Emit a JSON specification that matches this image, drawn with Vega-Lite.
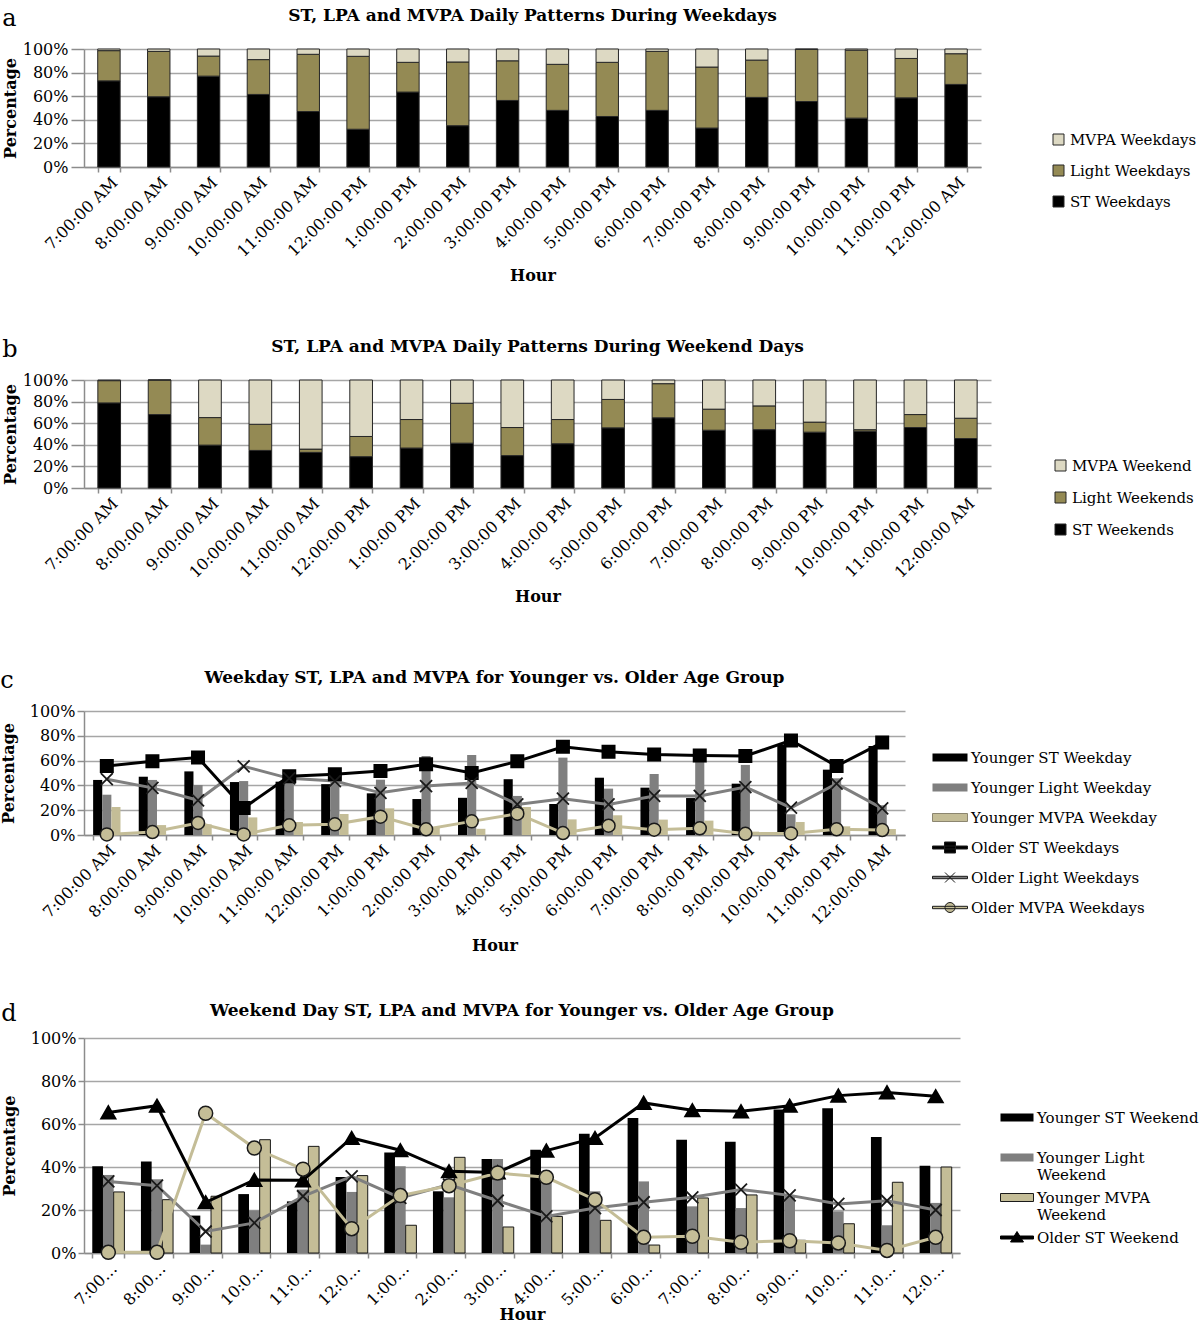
{
"$schema": "https://vega.github.io/schema/vega-lite/v6.json",
"background": "white",
"padding": {"left": 0, "top": 7, "right": 0, "bottom": 0},
"spacing": 64,
"resolve": {"scale": {"color": "independent", "xOffset": "independent", "x": "independent", "y": "independent"}, "legend": {"color": "independent"}},
"config": {
  "font": "DejaVu Serif",
  "view": {"stroke": null},
  "axis": {"labelFont": "DejaVu Serif", "labelFontSize": 16, "labelColor": "#000", "titleFont": "DejaVu Serif", "titleFontSize": 16, "titleColor": "#000", "titleFontWeight": "bold", "domainColor": "#8c8c8c", "tickColor": "#8c8c8c", "gridColor": "#a6a6a6", "domainWidth": 1.5, "gridWidth": 1.5, "tickWidth": 1.5},
  "legend": {"labelFont": "DejaVu Serif", "labelFontSize": 15, "labelColor": "#000", "padding": 0, "title": null, "labelLimit": 400},
  "title": {"font": "DejaVu Serif", "fontSize": 17, "fontWeight": "bold", "color": "#000"}
},
"datasets": {
"a": [
{"hour":"7:00:00 AM","series":"ST Weekdays","value":73},{"hour":"7:00:00 AM","series":"Light Weekdays","value":25.6},{"hour":"7:00:00 AM","series":"MVPA Weekdays","value":1.4},
{"hour":"8:00:00 AM","series":"ST Weekdays","value":59.5},{"hour":"8:00:00 AM","series":"Light Weekdays","value":38.5},{"hour":"8:00:00 AM","series":"MVPA Weekdays","value":2},
{"hour":"9:00:00 AM","series":"ST Weekdays","value":77},{"hour":"9:00:00 AM","series":"Light Weekdays","value":17},{"hour":"9:00:00 AM","series":"MVPA Weekdays","value":6},
{"hour":"10:00:00 AM","series":"ST Weekdays","value":61.5},{"hour":"10:00:00 AM","series":"Light Weekdays","value":29.5},{"hour":"10:00:00 AM","series":"MVPA Weekdays","value":9},
{"hour":"11:00:00 AM","series":"ST Weekdays","value":47},{"hour":"11:00:00 AM","series":"Light Weekdays","value":48.5},{"hour":"11:00:00 AM","series":"MVPA Weekdays","value":4.5},
{"hour":"12:00:00 PM","series":"ST Weekdays","value":32},{"hour":"12:00:00 PM","series":"Light Weekdays","value":61.8},{"hour":"12:00:00 PM","series":"MVPA Weekdays","value":6.2},
{"hour":"1:00:00 PM","series":"ST Weekdays","value":63.5},{"hour":"1:00:00 PM","series":"Light Weekdays","value":25.2},{"hour":"1:00:00 PM","series":"MVPA Weekdays","value":11.3},
{"hour":"2:00:00 PM","series":"ST Weekdays","value":35},{"hour":"2:00:00 PM","series":"Light Weekdays","value":54},{"hour":"2:00:00 PM","series":"MVPA Weekdays","value":11},
{"hour":"3:00:00 PM","series":"ST Weekdays","value":56.4},{"hour":"3:00:00 PM","series":"Light Weekdays","value":33.6},{"hour":"3:00:00 PM","series":"MVPA Weekdays","value":10},
{"hour":"4:00:00 PM","series":"ST Weekdays","value":48},{"hour":"4:00:00 PM","series":"Light Weekdays","value":39},{"hour":"4:00:00 PM","series":"MVPA Weekdays","value":13},
{"hour":"5:00:00 PM","series":"ST Weekdays","value":42.8},{"hour":"5:00:00 PM","series":"Light Weekdays","value":45.9},{"hour":"5:00:00 PM","series":"MVPA Weekdays","value":11.3},
{"hour":"6:00:00 PM","series":"ST Weekdays","value":48},{"hour":"6:00:00 PM","series":"Light Weekdays","value":50},{"hour":"6:00:00 PM","series":"MVPA Weekdays","value":2},
{"hour":"7:00:00 PM","series":"ST Weekdays","value":33},{"hour":"7:00:00 PM","series":"Light Weekdays","value":51.7},{"hour":"7:00:00 PM","series":"MVPA Weekdays","value":15.3},
{"hour":"8:00:00 PM","series":"ST Weekdays","value":59},{"hour":"8:00:00 PM","series":"Light Weekdays","value":31.6},{"hour":"8:00:00 PM","series":"MVPA Weekdays","value":9.4},
{"hour":"9:00:00 PM","series":"ST Weekdays","value":55.5},{"hour":"9:00:00 PM","series":"Light Weekdays","value":44.2},{"hour":"9:00:00 PM","series":"MVPA Weekdays","value":0.3},
{"hour":"10:00:00 PM","series":"ST Weekdays","value":41.4},{"hour":"10:00:00 PM","series":"Light Weekdays","value":57.6},{"hour":"10:00:00 PM","series":"MVPA Weekdays","value":1},
{"hour":"11:00:00 PM","series":"ST Weekdays","value":58.6},{"hour":"11:00:00 PM","series":"Light Weekdays","value":33.4},{"hour":"11:00:00 PM","series":"MVPA Weekdays","value":8},
{"hour":"12:00:00 AM","series":"ST Weekdays","value":70},{"hour":"12:00:00 AM","series":"Light Weekdays","value":26},{"hour":"12:00:00 AM","series":"MVPA Weekdays","value":4}
],
"b": [
{"hour":"7:00:00 AM","series":"ST Weekends","value":78.8},{"hour":"7:00:00 AM","series":"Light Weekends","value":20.6},{"hour":"7:00:00 AM","series":"MVPA Weekend","value":0.6},
{"hour":"8:00:00 AM","series":"ST Weekends","value":68},{"hour":"8:00:00 AM","series":"Light Weekends","value":32},{"hour":"8:00:00 AM","series":"MVPA Weekend","value":0},
{"hour":"9:00:00 AM","series":"ST Weekends","value":39.7},{"hour":"9:00:00 AM","series":"Light Weekends","value":25.5},{"hour":"9:00:00 AM","series":"MVPA Weekend","value":34.8},
{"hour":"10:00:00 AM","series":"ST Weekends","value":34.8},{"hour":"10:00:00 AM","series":"Light Weekends","value":24.2},{"hour":"10:00:00 AM","series":"MVPA Weekend","value":41},
{"hour":"11:00:00 AM","series":"ST Weekends","value":33},{"hour":"11:00:00 AM","series":"Light Weekends","value":3},{"hour":"11:00:00 AM","series":"MVPA Weekend","value":64},
{"hour":"12:00:00 PM","series":"ST Weekends","value":29},{"hour":"12:00:00 PM","series":"Light Weekends","value":18.7},{"hour":"12:00:00 PM","series":"MVPA Weekend","value":52.3},
{"hour":"1:00:00 PM","series":"ST Weekends","value":37},{"hour":"1:00:00 PM","series":"Light Weekends","value":26.4},{"hour":"1:00:00 PM","series":"MVPA Weekend","value":36.6},
{"hour":"2:00:00 PM","series":"ST Weekends","value":41.5},{"hour":"2:00:00 PM","series":"Light Weekends","value":37},{"hour":"2:00:00 PM","series":"MVPA Weekend","value":21.5},
{"hour":"3:00:00 PM","series":"ST Weekends","value":30},{"hour":"3:00:00 PM","series":"Light Weekends","value":26},{"hour":"3:00:00 PM","series":"MVPA Weekend","value":44},
{"hour":"4:00:00 PM","series":"ST Weekends","value":41},{"hour":"4:00:00 PM","series":"Light Weekends","value":22.4},{"hour":"4:00:00 PM","series":"MVPA Weekend","value":36.6},
{"hour":"5:00:00 PM","series":"ST Weekends","value":55.7},{"hour":"5:00:00 PM","series":"Light Weekends","value":26.3},{"hour":"5:00:00 PM","series":"MVPA Weekend","value":18},
{"hour":"6:00:00 PM","series":"ST Weekends","value":65},{"hour":"6:00:00 PM","series":"Light Weekends","value":31.6},{"hour":"6:00:00 PM","series":"MVPA Weekend","value":3.4},
{"hour":"7:00:00 PM","series":"ST Weekends","value":53.5},{"hour":"7:00:00 PM","series":"Light Weekends","value":19.5},{"hour":"7:00:00 PM","series":"MVPA Weekend","value":27},
{"hour":"8:00:00 PM","series":"ST Weekends","value":54},{"hour":"8:00:00 PM","series":"Light Weekends","value":22},{"hour":"8:00:00 PM","series":"MVPA Weekend","value":24},
{"hour":"9:00:00 PM","series":"ST Weekends","value":51.7},{"hour":"9:00:00 PM","series":"Light Weekends","value":9.3},{"hour":"9:00:00 PM","series":"MVPA Weekend","value":39},
{"hour":"10:00:00 PM","series":"ST Weekends","value":52.6},{"hour":"10:00:00 PM","series":"Light Weekends","value":1.4},{"hour":"10:00:00 PM","series":"MVPA Weekend","value":46},
{"hour":"11:00:00 PM","series":"ST Weekends","value":56},{"hour":"11:00:00 PM","series":"Light Weekends","value":12},{"hour":"11:00:00 PM","series":"MVPA Weekend","value":32},
{"hour":"12:00:00 AM","series":"ST Weekends","value":45.8},{"hour":"12:00:00 AM","series":"Light Weekends","value":18.8},{"hour":"12:00:00 AM","series":"MVPA Weekend","value":35.4}
],
"c": [
{"hour":"7:00:00 AM","series":"Younger ST Weekday","value":44.4},{"hour":"7:00:00 AM","series":"Younger Light Weekday","value":32.5},{"hour":"7:00:00 AM","series":"Younger MVPA Weekday","value":22.6},{"hour":"7:00:00 AM","series":"Older ST Weekdays","value":55.6},{"hour":"7:00:00 AM","series":"Older Light Weekdays","value":45},{"hour":"7:00:00 AM","series":"Older MVPA Weekdays","value":0.5},
{"hour":"8:00:00 AM","series":"Younger ST Weekday","value":47},{"hour":"8:00:00 AM","series":"Younger Light Weekday","value":44.4},{"hour":"8:00:00 AM","series":"Younger MVPA Weekday","value":8},{"hour":"8:00:00 AM","series":"Older ST Weekdays","value":59.4},{"hour":"8:00:00 AM","series":"Older Light Weekdays","value":38},{"hour":"8:00:00 AM","series":"Older MVPA Weekdays","value":2.4},
{"hour":"9:00:00 AM","series":"Younger ST Weekday","value":51.3},{"hour":"9:00:00 AM","series":"Younger Light Weekday","value":40.3},{"hour":"9:00:00 AM","series":"Younger MVPA Weekday","value":8.6},{"hour":"9:00:00 AM","series":"Older ST Weekdays","value":62.4},{"hour":"9:00:00 AM","series":"Older Light Weekdays","value":28},{"hour":"9:00:00 AM","series":"Older MVPA Weekdays","value":9.7},
{"hour":"10:00:00 AM","series":"Younger ST Weekday","value":42.7},{"hour":"10:00:00 AM","series":"Younger Light Weekday","value":43.5},{"hour":"10:00:00 AM","series":"Younger MVPA Weekday","value":14.2},{"hour":"10:00:00 AM","series":"Older ST Weekdays","value":21.8},{"hour":"10:00:00 AM","series":"Older Light Weekdays","value":55.4},{"hour":"10:00:00 AM","series":"Older MVPA Weekdays","value":0.5},
{"hour":"11:00:00 AM","series":"Younger ST Weekday","value":43},{"hour":"11:00:00 AM","series":"Younger Light Weekday","value":51},{"hour":"11:00:00 AM","series":"Younger MVPA Weekday","value":10.5},{"hour":"11:00:00 AM","series":"Older ST Weekdays","value":47.3},{"hour":"11:00:00 AM","series":"Older Light Weekdays","value":45.7},{"hour":"11:00:00 AM","series":"Older MVPA Weekdays","value":7.8},
{"hour":"12:00:00 PM","series":"Younger ST Weekday","value":41},{"hour":"12:00:00 PM","series":"Younger Light Weekday","value":46},{"hour":"12:00:00 PM","series":"Younger MVPA Weekday","value":17},{"hour":"12:00:00 PM","series":"Older ST Weekdays","value":49},{"hour":"12:00:00 PM","series":"Older Light Weekdays","value":43.5},{"hour":"12:00:00 PM","series":"Older MVPA Weekdays","value":8.6},
{"hour":"1:00:00 PM","series":"Younger ST Weekday","value":33.6},{"hour":"1:00:00 PM","series":"Younger Light Weekday","value":44.6},{"hour":"1:00:00 PM","series":"Younger MVPA Weekday","value":21.5},{"hour":"1:00:00 PM","series":"Older ST Weekdays","value":51.6},{"hour":"1:00:00 PM","series":"Older Light Weekdays","value":34},{"hour":"1:00:00 PM","series":"Older MVPA Weekdays","value":14.8},
{"hour":"2:00:00 PM","series":"Younger ST Weekday","value":29},{"hour":"2:00:00 PM","series":"Younger Light Weekday","value":63.7},{"hour":"2:00:00 PM","series":"Younger MVPA Weekday","value":6},{"hour":"2:00:00 PM","series":"Older ST Weekdays","value":57},{"hour":"2:00:00 PM","series":"Older Light Weekdays","value":39.5},{"hour":"2:00:00 PM","series":"Older MVPA Weekdays","value":4.6},
{"hour":"3:00:00 PM","series":"Younger ST Weekday","value":30},{"hour":"3:00:00 PM","series":"Younger Light Weekday","value":64.5},{"hour":"3:00:00 PM","series":"Younger MVPA Weekday","value":5},{"hour":"3:00:00 PM","series":"Older ST Weekdays","value":50},{"hour":"3:00:00 PM","series":"Older Light Weekdays","value":42},{"hour":"3:00:00 PM","series":"Older MVPA Weekdays","value":11},
{"hour":"4:00:00 PM","series":"Younger ST Weekday","value":45},{"hour":"4:00:00 PM","series":"Younger Light Weekday","value":31.5},{"hour":"4:00:00 PM","series":"Younger MVPA Weekday","value":22.6},{"hour":"4:00:00 PM","series":"Older ST Weekdays","value":59.4},{"hour":"4:00:00 PM","series":"Older Light Weekdays","value":24.7},{"hour":"4:00:00 PM","series":"Older MVPA Weekdays","value":17.2},
{"hour":"5:00:00 PM","series":"Younger ST Weekday","value":25},{"hour":"5:00:00 PM","series":"Younger Light Weekday","value":62.4},{"hour":"5:00:00 PM","series":"Younger MVPA Weekday","value":12.6},{"hour":"5:00:00 PM","series":"Older ST Weekdays","value":71.2},{"hour":"5:00:00 PM","series":"Older Light Weekdays","value":29.3},{"hour":"5:00:00 PM","series":"Older MVPA Weekdays","value":1.6},
{"hour":"6:00:00 PM","series":"Younger ST Weekday","value":46.2},{"hour":"6:00:00 PM","series":"Younger Light Weekday","value":37.4},{"hour":"6:00:00 PM","series":"Younger MVPA Weekday","value":15.9},{"hour":"6:00:00 PM","series":"Older ST Weekdays","value":67.2},{"hour":"6:00:00 PM","series":"Older Light Weekdays","value":24.7},{"hour":"6:00:00 PM","series":"Older MVPA Weekdays","value":7.5},
{"hour":"7:00:00 PM","series":"Younger ST Weekday","value":38.2},{"hour":"7:00:00 PM","series":"Younger Light Weekday","value":49.2},{"hour":"7:00:00 PM","series":"Younger MVPA Weekday","value":12.4},{"hour":"7:00:00 PM","series":"Older ST Weekdays","value":65},{"hour":"7:00:00 PM","series":"Older Light Weekdays","value":31.5},{"hour":"7:00:00 PM","series":"Older MVPA Weekdays","value":4.3},
{"hour":"8:00:00 PM","series":"Younger ST Weekday","value":29.8},{"hour":"8:00:00 PM","series":"Younger Light Weekday","value":61},{"hour":"8:00:00 PM","series":"Younger MVPA Weekday","value":11.6},{"hour":"8:00:00 PM","series":"Older ST Weekdays","value":64.2},{"hour":"8:00:00 PM","series":"Older Light Weekdays","value":31.5},{"hour":"8:00:00 PM","series":"Older MVPA Weekdays","value":5.4},
{"hour":"9:00:00 PM","series":"Younger ST Weekday","value":41.4},{"hour":"9:00:00 PM","series":"Younger Light Weekday","value":56.5},{"hour":"9:00:00 PM","series":"Younger MVPA Weekday","value":2.7},{"hour":"9:00:00 PM","series":"Older ST Weekdays","value":63.7},{"hour":"9:00:00 PM","series":"Older Light Weekdays","value":38.7},{"hour":"9:00:00 PM","series":"Older MVPA Weekdays","value":1},
{"hour":"10:00:00 PM","series":"Younger ST Weekday","value":73},{"hour":"10:00:00 PM","series":"Younger Light Weekday","value":16.7},{"hour":"10:00:00 PM","series":"Younger MVPA Weekday","value":10.5},{"hour":"10:00:00 PM","series":"Older ST Weekdays","value":76.3},{"hour":"10:00:00 PM","series":"Older Light Weekdays","value":22},{"hour":"10:00:00 PM","series":"Older MVPA Weekdays","value":1.3},
{"hour":"11:00:00 PM","series":"Younger ST Weekday","value":52.7},{"hour":"11:00:00 PM","series":"Younger Light Weekday","value":45.7},{"hour":"11:00:00 PM","series":"Younger MVPA Weekday","value":7},{"hour":"11:00:00 PM","series":"Older ST Weekdays","value":55.6},{"hour":"11:00:00 PM","series":"Older Light Weekdays","value":41.4},{"hour":"11:00:00 PM","series":"Older MVPA Weekdays","value":4.6},
{"hour":"12:00:00 AM","series":"Younger ST Weekday","value":71.8},{"hour":"12:00:00 AM","series":"Younger Light Weekday","value":24},{"hour":"12:00:00 AM","series":"Younger MVPA Weekday","value":4.8},{"hour":"12:00:00 AM","series":"Older ST Weekdays","value":74.5},{"hour":"12:00:00 AM","series":"Older Light Weekdays","value":21.5},{"hour":"12:00:00 AM","series":"Older MVPA Weekdays","value":4}
],
"d": [
{"hour":"7:00:00 AM","series":"Younger ST Weekend","value":40.3},{"hour":"7:00:00 AM","series":"Younger Light Weekend","value":36.3},{"hour":"7:00:00 AM","series":"Younger MVPA Weekend","value":28.4},{"hour":"7:00:00 AM","series":"Older ST Weekend","value":65.4},{"hour":"7:00:00 AM","series":"Older Light Weekend","value":33.3},{"hour":"7:00:00 AM","series":"Older MVPA Weekend","value":0.3},
{"hour":"8:00:00 AM","series":"Younger ST Weekend","value":42.6},{"hour":"8:00:00 AM","series":"Younger Light Weekend","value":34.3},{"hour":"8:00:00 AM","series":"Younger MVPA Weekend","value":24.8},{"hour":"8:00:00 AM","series":"Older ST Weekend","value":68.5},{"hour":"8:00:00 AM","series":"Older Light Weekend","value":31.3},{"hour":"8:00:00 AM","series":"Older MVPA Weekend","value":0.3},
{"hour":"9:00:00 AM","series":"Younger ST Weekend","value":17.4},{"hour":"9:00:00 AM","series":"Younger Light Weekend","value":3.9},{"hour":"9:00:00 AM","series":"Younger MVPA Weekend","value":26.4},{"hour":"9:00:00 AM","series":"Older ST Weekend","value":23.6},{"hour":"9:00:00 AM","series":"Older Light Weekend","value":10},{"hour":"9:00:00 AM","series":"Older MVPA Weekend","value":65},
{"hour":"10:00:00 AM","series":"Younger ST Weekend","value":27.4},{"hour":"10:00:00 AM","series":"Younger Light Weekend","value":19.8},{"hour":"10:00:00 AM","series":"Younger MVPA Weekend","value":52.7},{"hour":"10:00:00 AM","series":"Older ST Weekend","value":34},{"hour":"10:00:00 AM","series":"Older Light Weekend","value":14},{"hour":"10:00:00 AM","series":"Older MVPA Weekend","value":48.8},
{"hour":"11:00:00 AM","series":"Younger ST Weekend","value":24},{"hour":"11:00:00 AM","series":"Younger Light Weekend","value":29.5},{"hour":"11:00:00 AM","series":"Younger MVPA Weekend","value":49.6},{"hour":"11:00:00 AM","series":"Older ST Weekend","value":33.8},{"hour":"11:00:00 AM","series":"Older Light Weekend","value":26.4},{"hour":"11:00:00 AM","series":"Older MVPA Weekend","value":39},
{"hour":"12:00:00 PM","series":"Younger ST Weekend","value":35.3},{"hour":"12:00:00 PM","series":"Younger Light Weekend","value":28.4},{"hour":"12:00:00 PM","series":"Younger MVPA Weekend","value":36},{"hour":"12:00:00 PM","series":"Older ST Weekend","value":53.5},{"hour":"12:00:00 PM","series":"Older Light Weekend","value":35.6},{"hour":"12:00:00 PM","series":"Older MVPA Weekend","value":11.3},
{"hour":"1:00:00 PM","series":"Younger ST Weekend","value":46.8},{"hour":"1:00:00 PM","series":"Younger Light Weekend","value":40.3},{"hour":"1:00:00 PM","series":"Younger MVPA Weekend","value":12.9},{"hour":"1:00:00 PM","series":"Older ST Weekend","value":47.8},{"hour":"1:00:00 PM","series":"Older Light Weekend","value":25.6},{"hour":"1:00:00 PM","series":"Older MVPA Weekend","value":26.7},
{"hour":"2:00:00 PM","series":"Younger ST Weekend","value":28.7},{"hour":"2:00:00 PM","series":"Younger Light Weekend","value":25.9},{"hour":"2:00:00 PM","series":"Younger MVPA Weekend","value":44.5},{"hour":"2:00:00 PM","series":"Older ST Weekend","value":38},{"hour":"2:00:00 PM","series":"Older Light Weekend","value":31.8},{"hour":"2:00:00 PM","series":"Older MVPA Weekend","value":31.3},
{"hour":"3:00:00 PM","series":"Younger ST Weekend","value":43.7},{"hour":"3:00:00 PM","series":"Younger Light Weekend","value":43.7},{"hour":"3:00:00 PM","series":"Younger MVPA Weekend","value":12.1},{"hour":"3:00:00 PM","series":"Older ST Weekend","value":37.5},{"hour":"3:00:00 PM","series":"Older Light Weekend","value":24.3},{"hour":"3:00:00 PM","series":"Older MVPA Weekend","value":37.2},
{"hour":"4:00:00 PM","series":"Younger ST Weekend","value":48},{"hour":"4:00:00 PM","series":"Younger Light Weekend","value":35},{"hour":"4:00:00 PM","series":"Younger MVPA Weekend","value":17},{"hour":"4:00:00 PM","series":"Older ST Weekend","value":47.6},{"hour":"4:00:00 PM","series":"Older Light Weekend","value":17},{"hour":"4:00:00 PM","series":"Older MVPA Weekend","value":35.2},
{"hour":"5:00:00 PM","series":"Younger ST Weekend","value":55.5},{"hour":"5:00:00 PM","series":"Younger Light Weekend","value":28.7},{"hour":"5:00:00 PM","series":"Younger MVPA Weekend","value":15.2},{"hour":"5:00:00 PM","series":"Older ST Weekend","value":53.5},{"hour":"5:00:00 PM","series":"Older Light Weekend","value":20.9},{"hour":"5:00:00 PM","series":"Older MVPA Weekend","value":24.8},
{"hour":"6:00:00 PM","series":"Younger ST Weekend","value":62.8},{"hour":"6:00:00 PM","series":"Younger Light Weekend","value":33.3},{"hour":"6:00:00 PM","series":"Younger MVPA Weekend","value":3.7},{"hour":"6:00:00 PM","series":"Older ST Weekend","value":69.8},{"hour":"6:00:00 PM","series":"Older Light Weekend","value":23.6},{"hour":"6:00:00 PM","series":"Older MVPA Weekend","value":7.3},
{"hour":"7:00:00 PM","series":"Younger ST Weekend","value":52.7},{"hour":"7:00:00 PM","series":"Younger Light Weekend","value":21.7},{"hour":"7:00:00 PM","series":"Younger MVPA Weekend","value":25.6},{"hour":"7:00:00 PM","series":"Older ST Weekend","value":66.4},{"hour":"7:00:00 PM","series":"Older Light Weekend","value":25.9},{"hour":"7:00:00 PM","series":"Older MVPA Weekend","value":7.8},
{"hour":"8:00:00 PM","series":"Younger ST Weekend","value":51.8},{"hour":"8:00:00 PM","series":"Younger Light Weekend","value":20.9},{"hour":"8:00:00 PM","series":"Younger MVPA Weekend","value":27},{"hour":"8:00:00 PM","series":"Older ST Weekend","value":65.9},{"hour":"8:00:00 PM","series":"Older Light Weekend","value":29.5},{"hour":"8:00:00 PM","series":"Older MVPA Weekend","value":5},
{"hour":"9:00:00 PM","series":"Younger ST Weekend","value":66.7},{"hour":"9:00:00 PM","series":"Younger Light Weekend","value":27},{"hour":"9:00:00 PM","series":"Younger MVPA Weekend","value":5.9},{"hour":"9:00:00 PM","series":"Older ST Weekend","value":68.5},{"hour":"9:00:00 PM","series":"Older Light Weekend","value":26.8},{"hour":"9:00:00 PM","series":"Older MVPA Weekend","value":5.7},
{"hour":"10:00:00 PM","series":"Younger ST Weekend","value":67.3},{"hour":"10:00:00 PM","series":"Younger Light Weekend","value":19.4},{"hour":"10:00:00 PM","series":"Younger MVPA Weekend","value":13.6},{"hour":"10:00:00 PM","series":"Older ST Weekend","value":73.2},{"hour":"10:00:00 PM","series":"Older Light Weekend","value":22.8},{"hour":"10:00:00 PM","series":"Older MVPA Weekend","value":4.7},
{"hour":"11:00:00 PM","series":"Younger ST Weekend","value":54},{"hour":"11:00:00 PM","series":"Younger Light Weekend","value":12.9},{"hour":"11:00:00 PM","series":"Younger MVPA Weekend","value":32.9},{"hour":"11:00:00 PM","series":"Older ST Weekend","value":74.7},{"hour":"11:00:00 PM","series":"Older Light Weekend","value":24.3},{"hour":"11:00:00 PM","series":"Older MVPA Weekend","value":1.2},
{"hour":"12:00:00 AM","series":"Younger ST Weekend","value":40.6},{"hour":"12:00:00 AM","series":"Younger Light Weekend","value":23.3},{"hour":"12:00:00 AM","series":"Younger MVPA Weekend","value":40},{"hour":"12:00:00 AM","series":"Older ST Weekend","value":72.9},{"hour":"12:00:00 AM","series":"Older Light Weekend","value":20},{"hour":"12:00:00 AM","series":"Older MVPA Weekend","value":7.3}
]
},
"vconcat": [
{
"spacing": 54,
"resolve": {"scale": {"color": "independent", "xOffset": "independent", "x": "independent", "y": "independent"}, "legend": {"color": "independent"}},
"vconcat": [
{
  "title": {"text": "a", "anchor": "start", "fontSize": 24, "fontWeight": "normal", "offset": -24},
  "vconcat": [{
    "width": 897, "height": 118,
    "title": {"text": "ST, LPA and MVPA Daily Patterns During Weekdays", "anchor": "middle", "frame": "group", "offset": 16},
    "data": {"name": "a"},
    "transform": [{"calculate": "indexof(['ST Weekdays', 'Light Weekdays', 'MVPA Weekdays'], datum.series)", "as": "stackOrder"}],
    "mark": {"type": "bar", "stroke": "#262626", "strokeWidth": 1},
    "encoding": {
      "x": {"field": "hour", "type": "nominal", "sort": null, "scale": {"paddingInner": 0.55, "paddingOuter": 0.275}, "axis": {"title": "Hour", "labelAngle": -45, "tickBand": "extent", "tickSize": 5, "titlePadding": 8}},
      "y": {"field": "value", "type": "quantitative", "stack": "zero", "scale": {"domain": [0, 100]}, "axis": {"title": "Percentage", "values": [0, 20, 40, 60, 80, 100], "labelExpr": "datum.value + '%'", "tickSize": 13, "labelPadding": 3, "titlePadding": 4}},
      "order": {"field": "stackOrder", "type": "quantitative", "sort": "ascending"},
      "color": {"field": "series", "type": "nominal", "scale": {"domain": ["MVPA Weekdays", "Light Weekdays", "ST Weekdays"], "range": ["#DDD9C3", "#948A54", "#000000"]}, "legend": {"orient": "none", "legendX": 967, "legendY": 83, "symbolType": "square", "symbolSize": 121, "symbolStrokeColor": "#262626", "symbolStrokeWidth": 1, "rowPadding": 15, "labelOffset": 4}}
    }
  }]
},
{
  "title": {"text": "b", "anchor": "start", "fontSize": 24, "fontWeight": "normal", "offset": -24},
  "vconcat": [{
    "width": 907, "height": 108,
    "title": {"text": "ST, LPA and MVPA Daily Patterns During Weekend Days", "anchor": "middle", "frame": "group", "offset": 16},
    "data": {"name": "b"},
    "transform": [{"calculate": "indexof(['ST Weekends', 'Light Weekends', 'MVPA Weekend'], datum.series)", "as": "stackOrder"}],
    "mark": {"type": "bar", "stroke": "#262626", "strokeWidth": 1},
    "encoding": {
      "x": {"field": "hour", "type": "nominal", "sort": null, "scale": {"paddingInner": 0.55, "paddingOuter": 0.275}, "axis": {"title": "Hour", "labelAngle": -45, "tickBand": "extent", "tickSize": 5, "titlePadding": 8}},
      "y": {"field": "value", "type": "quantitative", "stack": "zero", "scale": {"domain": [0, 100]}, "axis": {"title": "Percentage", "values": [0, 20, 40, 60, 80, 100], "labelExpr": "datum.value + '%'", "tickSize": 13, "labelPadding": 3, "titlePadding": 4}},
      "order": {"field": "stackOrder", "type": "quantitative", "sort": "ascending"},
      "color": {"field": "series", "type": "nominal", "scale": {"domain": ["MVPA Weekend", "Light Weekends", "ST Weekends"], "range": ["#DDD9C3", "#948A54", "#000000"]}, "legend": {"orient": "none", "legendX": 969, "legendY": 78, "symbolType": "square", "symbolSize": 121, "symbolStrokeColor": "#262626", "symbolStrokeWidth": 1, "rowPadding": 16, "labelOffset": 4}}
    }
  }]
}
]
},
{
"spacing": 48,
"resolve": {"scale": {"color": "independent", "xOffset": "independent", "x": "independent", "y": "independent"}, "legend": {"color": "independent"}},
"vconcat": [
{
  "title": {"text": "c", "anchor": "start", "fontSize": 24, "fontWeight": "normal", "offset": -24},
  "vconcat": [{
    "width": 821, "height": 124,
    "title": {"text": "Weekday ST, LPA and MVPA for Younger vs. Older Age Group", "anchor": "middle", "frame": "group", "offset": 16},
    "data": {"name": "c"},
    "encoding": {
      "x": {"field": "hour", "type": "nominal", "sort": null, "scale": {"paddingInner": 0.4, "paddingOuter": 0.2}, "axis": {"title": "Hour", "labelAngle": -45, "tickBand": "extent", "tickSize": 5, "titlePadding": 10}},
      "y": {"field": "value", "type": "quantitative", "scale": {"domain": [0, 100]}, "axis": {"title": "Percentage", "values": [0, 20, 40, 60, 80, 100], "labelExpr": "datum.value + '%'", "grid": true, "tickSize": 7, "labelPadding": 2, "titlePadding": 13}}
    },
    "layer": [
      {"transform": [{"filter": "indexof(datum.series, 'Younger') === 0"}],
       "mark": {"type": "bar"},
       "encoding": {
         "xOffset": {"field": "series", "type": "nominal", "scale": {"domain": ["Younger ST Weekday", "Younger Light Weekday", "Younger MVPA Weekday"], "paddingInner": 0}},
         "color": {"field": "series", "type": "nominal", "scale": {"domain": ["Younger ST Weekday", "Younger Light Weekday", "Younger MVPA Weekday", "Older ST Weekdays", "Older Light Weekdays", "Older MVPA Weekdays"], "range": ["#000000", "#7F7F7F", "#C4BD97", "#000000", "#7F7F7F", "#C4BD97"]},
           "legend": {"orient": "none", "legendX": 848, "legendY": 36, "symbolSize": 400, "rowPadding": 11, "labelOffset": 18,
             "encode": {"symbols": {"update": {
               "shape": {"signal": "datum.value === 'Older ST Weekdays' ? 'M-1,-0.15H2.5V0.15H-1Z M0.2,-0.55H1.3V0.55H0.2Z' : datum.value === 'Older Light Weekdays' ? 'M-1,-0.12H2.5V0.12H-1Z M0.25,-0.5L1.25,0.5 M0.25,0.5L1.25,-0.5' : datum.value === 'Older MVPA Weekdays' ? 'M-1,-0.12H2.5V0.12H-1Z M0.25,0A0.5,0.5 0 1,1 1.25,0A0.5,0.5 0 1,1 0.25,0Z' : 'M-1,-0.4H2.5V0.4H-1Z'"},
               "stroke": {"signal": "indexof(datum.value, 'Older') === 0 ? '#1a1a1a' : (datum.value === 'Younger MVPA Weekday' ? '#8c8670' : 'transparent')"},
               "strokeWidth": {"value": 1},
               "opacity": {"value": 1}
             }}}}}
       }},
      {"transform": [{"filter": "datum.series === 'Older Light Weekdays'"}], "mark": {"type": "line", "color": "#7F7F7F", "strokeWidth": 3}, "encoding": {}},
      {"transform": [{"filter": "datum.series === 'Older MVPA Weekdays'"}], "mark": {"type": "line", "color": "#C4BD97", "strokeWidth": 3}, "encoding": {}},
      {"transform": [{"filter": "datum.series === 'Older ST Weekdays'"}], "mark": {"type": "line", "color": "#000000", "strokeWidth": 3}, "encoding": {}},
      {"transform": [{"filter": "datum.series === 'Older ST Weekdays'"}], "mark": {"type": "point", "shape": "square", "filled": true, "fill": "#000000", "stroke": "#000000", "size": 144, "opacity": 1}, "encoding": {}},
      {"transform": [{"filter": "datum.series === 'Older Light Weekdays'"}], "mark": {"type": "point", "shape": "M-1,-1L1,1M-1,1L1,-1", "filled": false, "stroke": "#1a1a1a", "strokeWidth": 1.8, "size": 144, "opacity": 1}, "encoding": {}},
      {"transform": [{"filter": "datum.series === 'Older MVPA Weekdays'"}], "mark": {"type": "point", "shape": "circle", "filled": true, "fill": "#C4BD97", "stroke": "#1a1a1a", "strokeWidth": 1.5, "size": 169, "opacity": 1}, "encoding": {}}
    ]
  }]
},
{
  "title": {"text": "d", "anchor": "start", "fontSize": 24, "fontWeight": "normal", "offset": -24},
  "vconcat": [{
    "width": 876, "height": 215,
    "title": {"text": "Weekend Day ST, LPA and MVPA for Younger vs. Older Age Group", "anchor": "middle", "frame": "group", "offset": 10},
    "data": {"name": "d"},
    "encoding": {
      "x": {"field": "hour", "type": "nominal", "sort": null, "scale": {"paddingInner": 0.34, "paddingOuter": 0.17}, "axis": {"title": "Hour", "labelAngle": -45, "tickBand": "extent", "tickSize": 5, "titlePadding": -2, "labelExpr": "datum.label ? substring(datum.label, 0, 4) + '…' : ''"}},
      "y": {"field": "value", "type": "quantitative", "scale": {"domain": [0, 100]}, "axis": {"title": "Percentage", "values": [0, 20, 40, 60, 80, 100], "labelExpr": "datum.value + '%'", "grid": true, "tickSize": 6, "labelPadding": 2, "titlePadding": 13}}
    },
    "layer": [
      {"transform": [{"filter": "indexof(datum.series, 'Younger') === 0"}],
       "mark": {"type": "bar"},
       "encoding": {
         "xOffset": {"field": "series", "type": "nominal", "scale": {"domain": ["Younger ST Weekend", "Younger Light Weekend", "Younger MVPA Weekend"], "paddingInner": 0}},
         "color": {"field": "series", "type": "nominal", "scale": {"domain": ["Younger ST Weekend", "Younger Light Weekend", "Younger MVPA Weekend", "Older ST Weekend"], "range": ["#000000", "#7F7F7F", "#C4BD97", "#000000"]},
           "legend": {"orient": "none", "legendX": 916, "legendY": 69, "symbolSize": 400, "rowPadding": 4, "labelOffset": 16,
             "labelExpr": "datum.label === 'Younger Light Weekend' ? ['Younger Light', 'Weekend'] : datum.label === 'Younger MVPA Weekend' ? ['Younger MVPA', 'Weekend'] : datum.label === 'Younger ST Weekend' ? ['Younger ST Weekend', ' '] : datum.label",
             "encode": {"symbols": {"update": {
               "shape": {"signal": "datum.value === 'Older ST Weekend' ? 'M-1,-0.15H2.3V0.15H-1Z M0.65,-0.6L1.3,0.45H0Z' : 'M-1,-0.4H2.3V0.4H-1Z'"},
               "stroke": {"signal": "datum.value === 'Older ST Weekend' ? '#000' : (datum.value === 'Younger MVPA Weekend' ? '#1a1a1a' : 'transparent')"},
               "strokeWidth": {"value": 1},
               "opacity": {"value": 1}
             }}}}}
       }},
      {"transform": [{"filter": "datum.series === 'Younger MVPA Weekend'"}],
       "mark": {"type": "bar", "fill": "#C4BD97", "stroke": "#1a1a1a", "strokeWidth": 1},
       "encoding": {"xOffset": {"field": "series", "type": "nominal"}}},
      {"transform": [{"filter": "datum.series === 'Older Light Weekend'"}], "mark": {"type": "line", "color": "#7F7F7F", "strokeWidth": 3}, "encoding": {}},
      {"transform": [{"filter": "datum.series === 'Older MVPA Weekend'"}], "mark": {"type": "line", "color": "#C4BD97", "strokeWidth": 3}, "encoding": {}},
      {"transform": [{"filter": "datum.series === 'Older ST Weekend'"}], "mark": {"type": "line", "color": "#000000", "strokeWidth": 3}, "encoding": {}},
      {"transform": [{"filter": "datum.series === 'Older ST Weekend'"}], "mark": {"type": "point", "shape": "triangle-up", "filled": true, "fill": "#000000", "stroke": "#000000", "size": 196, "opacity": 1}, "encoding": {}},
      {"transform": [{"filter": "datum.series === 'Older Light Weekend'"}], "mark": {"type": "point", "shape": "M-1,-1L1,1M-1,1L1,-1", "filled": false, "stroke": "#1a1a1a", "strokeWidth": 1.8, "size": 144, "opacity": 1}, "encoding": {}},
      {"transform": [{"filter": "datum.series === 'Older MVPA Weekend'"}], "mark": {"type": "point", "shape": "circle", "filled": true, "fill": "#C4BD97", "stroke": "#1a1a1a", "strokeWidth": 1.5, "size": 196, "opacity": 1}, "encoding": {}}
    ]
  }]
}
]
}
]
}
